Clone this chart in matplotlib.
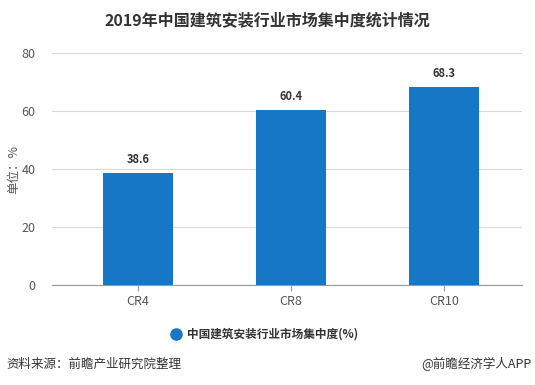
import matplotlib
matplotlib.use("Agg")
import matplotlib.pyplot as plt
from matplotlib.lines import Line2D

categories = ["CR4", "CR8", "CR10"]
values = [38.6, 60.4, 68.3]
yticks = [0, 20, 40, 60, 80]
title = "2019年中国建筑安装行业市场集中度统计情况"
series_name = "中国建筑安装行业市场集中度(%)"
ylabel = "单位：%"
source = "资料来源：前瞻产业研究院整理"
credit = "@前瞻经济学人APP"

plt.rcParams['font.family'] = ['Noto Sans CJK SC', 'DejaVu Sans']
blue = "#1677c7"

fig = plt.figure(figsize=(5.35, 3.85), dpi=100)
ax = fig.add_axes([52/535, 100/385, 470/535, 232/385])
x = list(range(len(categories)))
ax.bar(x, values, width=0.46, color=blue, zorder=3)
for xi, v in zip(x, values):
    ax.text(xi, v + 2.5, f"{v}", ha="center", va="bottom", fontsize=8,
            fontweight="bold", color="#333333")
ax.set_xlim(-0.562, 2.51)
ax.set_ylim(0, 80)
ax.set_yticks(yticks)
ax.set_xticks(x)
ax.set_xticklabels(categories)
ax.grid(axis="y", color="#d9d9d9", linewidth=0.8, zorder=0)
for s in ["top", "right", "left"]:
    ax.spines[s].set_visible(False)
ax.spines["bottom"].set_color("#999999")
ax.tick_params(axis="y", length=0, labelsize=9, colors="#555555", pad=12)
ax.tick_params(axis="x", length=4, color="#999999", labelsize=9, colors="#555555")
ax.set_ylabel(ylabel, fontsize=9, color="#555555", labelpad=2)
ax.yaxis.set_label_coords(-0.068, 0.5)

fig.text(0.5, 0.947, title, ha="center", va="center", fontsize=11.5,
         fontweight="bold", color="#333333")
# legend
fig.lines.append(Line2D([176/535], [1 - 334/385], marker="o", markersize=8,
                 color=blue, transform=fig.transFigure))
fig.text(187/535, 1 - 334/385, series_name, ha="left", va="center", fontsize=8.4,
         fontweight="bold", color="#333333")
fig.text(6/535, 1 - 364/385, source, ha="left", va="center", fontsize=9, color="#333333")
fig.text(531/535, 1 - 364/385, credit, ha="right", va="center", fontsize=9, color="#333333")

fig.savefig("out.png", dpi=100)
